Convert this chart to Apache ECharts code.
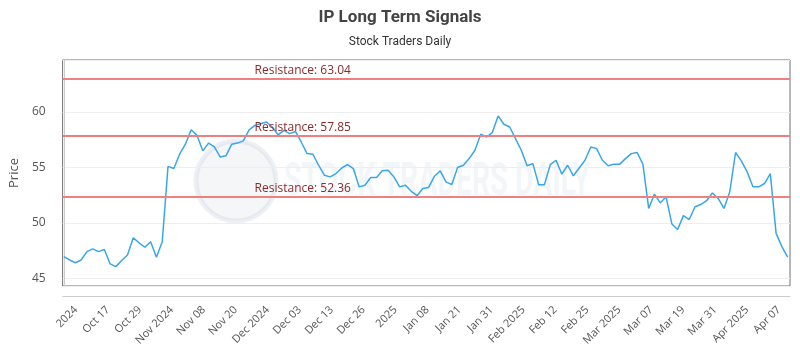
<!DOCTYPE html>
<html>
<head>
<meta charset="utf-8">
<script src="https://cdn.jsdelivr.net/npm/echarts@6/dist/echarts.min.js"></script>
<style>
  html, body { margin: 0; padding: 0; background: #fff; }
  #container { width: 800px; height: 350px; }
</style>
</head>
<body>
<div id="container"></div>
<script>
// closing prices, one per trading day
var priceValues = [
    46.95, 46.65, 46.4, 46.65, 47.4, 47.65, 47.4, 47.6, 46.3, 46.05,
    46.6, 47.1, 48.65, 48.2, 47.8, 48.3, 46.9, 48.3, 55.1, 54.9,
    56.2, 57.1, 58.4, 57.9, 56.5, 57.2, 56.85, 55.95, 56.05, 57.1,
    57.2, 57.4, 58.4, 58.8, 58.95, 59.1, 58.65, 57.95, 58.35, 58.05,
    58.25, 57.3, 56.25, 56.2, 55.2, 54.3, 54.15, 54.45, 54.95, 55.25,
    54.9, 53.25, 53.4, 54.1, 54.1, 54.7, 54.75, 54.15, 53.25, 53.4,
    52.85, 52.45, 53.1, 53.2, 54.2, 54.7, 53.7, 53.45, 55.0, 55.2,
    55.8, 56.55, 58.0, 57.75, 58.15, 59.65, 58.9, 58.65, 57.6, 56.55,
    55.15, 55.35, 53.45, 53.45, 55.25, 55.65, 54.4, 55.2, 54.25, 54.95,
    55.65, 56.85, 56.7, 55.65, 55.15, 55.3, 55.3, 55.8, 56.25, 56.35,
    55.3, 51.3, 52.6, 51.8, 52.35, 49.9, 49.4, 50.65, 50.3, 51.45,
    51.65, 52.0, 52.7, 52.2, 51.3, 52.8, 56.35, 55.6, 54.6, 53.25,
    53.25, 53.55, 54.45, 49.05, 47.85, 46.9
];

var tickLabels = [
    '2024', 'Oct 17', 'Oct 29', 'Nov 2024', 'Nov 08', 'Nov 20', 'Dec 2024',
    'Dec 03', 'Dec 13', 'Dec 26', '2025', 'Jan 08', 'Jan 21', 'Jan 31',
    'Feb 2025', 'Feb 12', 'Feb 25', 'Mar 2025', 'Mar 07', 'Mar 19',
    'Mar 31', 'Apr 2025', 'Apr 07'
];

var resistanceLevels = [63.04, 57.85, 52.36];

var myChart = echarts.init(document.getElementById('container'));

var lineData = priceValues.map(function (v, i) { return [i, v]; });

var option = {
    backgroundColor: '#fff',
    animation: false,
    title: {
        text: 'IP Long Term Signals',
        subtext: 'Stock Traders Daily',
        left: 'center',
        top: 4,
        itemGap: 10,
        textStyle: {
            fontFamily: 'Roboto',
            fontSize: 17,
            fontWeight: 'bold',
            color: '#444'
        },
        subtextStyle: {
            fontFamily: 'Roboto',
            fontSize: 12,
            color: '#333'
        }
    },
    // faint watermark behind the plot
    graphic: [
        {
            type: 'circle',
            z: 0,
            shape: { cx: 236, cy: 181, r: 40 },
            style: { fill: 'rgba(220,226,233,0.3)', stroke: 'rgba(210,218,227,0.4)', lineWidth: 5 }
        },
        {
            type: 'text',
            z: 0,
            left: 284,
            top: 160,
            scaleX: 0.62,
            style: {
                text: 'STOCK TRADERS DAILY',
                fontFamily: 'Roboto',
                fontSize: 46,
                fontWeight: 'bold',
                fill: 'rgba(222,228,235,0.35)'
            }
        }
    ],
    grid: [
        { left: 60, right: 10, top: 60, bottom: 64, show: true, borderColor: '#707070', borderWidth: 1 },
        { left: 60, right: 5, top: 60, bottom: 64, show: false }
    ],
    xAxis: [
        {
            type: 'value',
            gridIndex: 0,
            min: -0.2,
            max: 125.4,
            offset: 10,
            axisLine: { show: true, lineStyle: { color: '#ccc' } },
            axisTick: { show: false },
            axisLabel: { show: false },
            splitLine: { show: false }
        },
        {
            type: 'category',
            gridIndex: 1,
            data: tickLabels,
            boundaryGap: true,
            offset: 10,
            axisLine: { show: false },
            axisTick: { show: false },
            axisLabel: {
                interval: 0,
                rotate: 45,
                margin: 12,
                fontFamily: 'Open Sans',
                fontSize: 11,
                color: '#555'
            }
        }
    ],
    yAxis: [
        {
            type: 'value',
            gridIndex: 0,
            min: 44.3,
            max: 64.7,
            splitNumber: 4,
            offset: 10,
            name: 'Price',
            nameLocation: 'middle',
            nameGap: 30,
            nameTextStyle: { fontFamily: 'Open Sans', fontSize: 13, color: '#555' },
            axisLine: { show: true, lineStyle: { color: '#ccc' } },
            axisTick: { show: false },
            axisLabel: {
                showMinLabel: false,
                showMaxLabel: false,
                margin: 7,
                fontFamily: 'Open Sans',
                fontSize: 12,
                color: '#555'
            },
            splitLine: { lineStyle: { color: '#eeeeee' } }
        },
        { type: 'value', gridIndex: 1, show: false }
    ],
    series: [{
        name: 'IP',
        type: 'line',
        xAxisIndex: 0,
        yAxisIndex: 0,
        data: lineData,
        showSymbol: false,
        symbol: 'none',
        z: 3,
        lineStyle: { color: '#3aa6ea', width: 1.5 },
        markLine: {
            silent: true,
            symbol: 'none',
            lineStyle: { color: '#ee8080', width: 2, type: 'solid' },
            label: {
                position: 'insideStartTop',
                distance: 2,
                padding: [0, 0, 0, 190],
                fontFamily: 'Open Sans',
                fontSize: 12,
                color: '#8b2a2a',
                formatter: function (p) { return 'Resistance: ' + p.value.toFixed(2); }
            },
            data: resistanceLevels.map(function (v) { return { yAxis: v }; })
        }
    }]
};

myChart.setOption(option);
</script>
</body>
</html>
